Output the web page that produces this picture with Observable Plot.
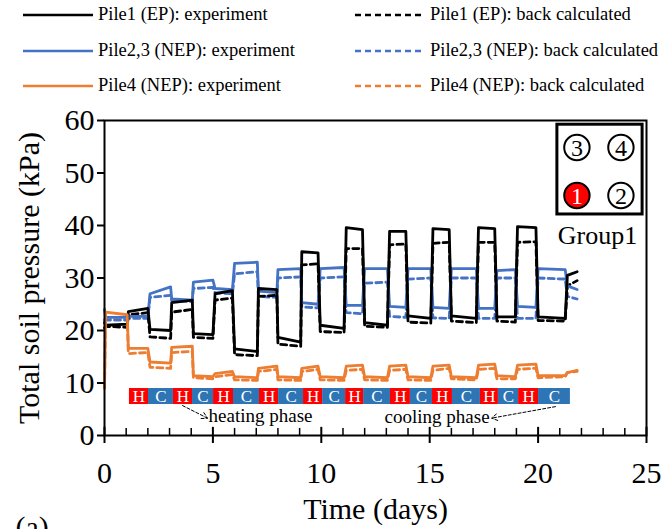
<!DOCTYPE html>
<html><head><meta charset="utf-8">
<script src="https://cdn.jsdelivr.net/npm/d3@7"></script>
<script src="https://cdn.jsdelivr.net/npm/@observablehq/plot@0.6"></script>
<style>
body{margin:0;background:#fff;font-family:"Liberation Serif","Times New Roman",serif;}
#wrap{position:relative;width:663px;height:529px;overflow:hidden;background:#fff;}
#legend{position:relative;width:663px;height:100px;}
.sw{position:absolute;}
.lab{position:absolute;font-size:18.5px;line-height:20px;white-space:nowrap;color:#000;}
</style>
</head><body>
<div id="wrap"><div id="legend"></div><div id="chart"></div></div>
<script>
// ---- data ----
const days = [0, 0.05, 1.05, 1.1, 2.0, 2.1, 3.05, 3.1, 4.05, 4.1, 5.0, 5.1, 5.9, 6.0, 7.05, 7.1, 7.95, 8.0, 9.05, 9.1, 9.85, 9.95, 11.05, 11.15, 11.9, 12.0, 13.05, 13.15, 13.9, 14.0, 15.05, 15.15, 15.9, 16.0, 17.15, 17.25, 18.0, 18.1, 18.95, 19.05, 19.9, 20.0, 21.25, 21.35, 21.8];
const pile1Exp  = [21.5, 21.0, 21.2, 23.6, 24.2, 20.2, 20.0, 25.3, 25.8, 19.4, 19.2, 27.0, 27.6, 16.5, 16.0, 28.0, 27.8, 18.7, 17.8, 35.0, 34.8, 21.0, 20.4, 39.6, 39.2, 21.5, 21.0, 38.9, 38.9, 22.8, 22.3, 39.4, 39.2, 22.8, 22.3, 39.6, 39.4, 22.6, 22.6, 39.8, 39.6, 22.6, 22.3, 30.5, 31.2];
const pile1Calc = [20.5, 20.8, 20.6, 23.0, 23.4, 18.8, 18.5, 23.5, 24.0, 18.7, 18.5, 25.8, 26.2, 15.4, 15.2, 26.5, 26.7, 17.4, 17.0, 32.5, 32.7, 19.8, 19.6, 35.6, 35.6, 20.8, 20.6, 36.3, 36.5, 21.6, 21.4, 36.6, 36.8, 21.8, 21.5, 36.8, 36.8, 21.8, 21.6, 36.8, 36.9, 21.9, 21.8, 28.5, 29.5];
const pile23Exp  = [24.0, 22.5, 22.5, 22.7, 22.7, 27.0, 28.3, 26.0, 25.8, 29.2, 29.6, 28.0, 27.8, 32.8, 33.0, 27.5, 27.2, 31.6, 31.8, 25.3, 25.0, 31.8, 32.0, 24.8, 24.8, 31.8, 31.8, 24.6, 24.4, 31.8, 31.8, 24.4, 24.2, 31.8, 31.8, 24.2, 24.2, 31.4, 31.6, 24.6, 24.4, 31.8, 31.6, 28.5, 27.8];
const pile23Calc = [22.0, 22.0, 22.0, 22.3, 22.3, 26.3, 26.7, 25.7, 25.5, 28.0, 28.2, 27.2, 27.0, 30.8, 31.2, 26.5, 26.3, 30.0, 30.2, 24.5, 24.3, 30.0, 30.2, 23.4, 23.2, 29.0, 29.2, 22.7, 22.5, 29.8, 30.0, 22.4, 22.3, 30.0, 30.0, 22.3, 22.3, 30.0, 30.0, 22.3, 22.3, 30.0, 29.8, 26.5, 26.0];
const pile4Exp  = [9.0, 23.5, 23.0, 16.6, 16.6, 14.0, 13.8, 16.8, 17.0, 11.4, 11.2, 11.8, 12.2, 11.2, 11.0, 12.8, 13.2, 11.2, 11.0, 12.8, 13.2, 11.2, 11.0, 13.2, 13.4, 11.2, 11.0, 13.2, 13.4, 11.2, 11.0, 13.2, 13.4, 11.2, 11.0, 13.4, 13.6, 11.4, 11.2, 13.4, 13.6, 11.4, 11.4, 12.0, 12.4];
const pile4Calc = [9.0, 22.5, 22.5, 15.6, 15.8, 13.0, 12.8, 15.8, 16.0, 11.0, 10.8, 11.2, 11.6, 10.6, 10.5, 12.2, 12.6, 10.6, 10.5, 12.2, 12.6, 10.6, 10.5, 12.4, 12.6, 10.6, 10.5, 12.4, 12.6, 10.6, 10.5, 12.4, 12.8, 10.8, 10.6, 12.6, 12.8, 10.8, 10.8, 12.6, 12.8, 11.0, 11.2, 12.0, 12.2];

const seriesNames = ["Pile1 (EP): experiment", "Pile1 (EP): back calculated",
  "Pile2,3 (NEP): experiment", "Pile2,3 (NEP): back calculated",
  "Pile4 (NEP): experiment", "Pile4 (NEP): back calculated"];
const xTicks = [0, 5, 10, 15, 20, 25];
const xMinor = [1,2,3,4,6,7,8,9,11,12,13,14,16,17,18,19,21,22,23,24];
const yTicks = [0, 10, 20, 30, 40, 50, 60];

// heating/cooling phase strip (day boundaries) and labels
const phaseEdges = [1.15, 2.03, 3.18, 4.06, 5.03, 5.95, 7.15, 8.03, 9.18, 10.06, 11.12, 11.95, 13.19, 14.11, 15.13, 16.05, 17.34, 18.17, 19.10, 20.02, 21.49];
const phaseLabels = ["H","C","H","C","H","C","H","C","H","C","H","C","H","C","H","C","H","C","H","C"];
const stripY = [5.9, 8.95];

// annotations (data units)
const phaseTexts = [{x: 4.8, y: 2.5, text: "heating phase"}, {x: 12.92, y: 2.3, text: "cooling phase"}];
const phaseArrows = [{x1: 3.6, y1: 5.7, x2: 4.75, y2: 3.3}, {x1: 20.8, y1: 5.5, x2: 17.85, y2: 3.3}];
const groupBox = [{x1: 20.89, x2: 24.82, y1: 42.1, y2: 59.2}];
const groupPiles = [{x: 21.79, y: 54.86, n: "3"}, {x: 23.82, y: 54.86, n: "4"}, {x: 21.79, y: 45.71, n: "1"}, {x: 23.82, y: 45.71, n: "2"}];
const groupLabel = [{x: 22.74, y: 36.4, text: "Group1"}];

// ---- styles ----
const BLACK = "#000000", BLUE = "#4472C4", ORANGE = "#ED7D31";
const RED = "#FF0000", CBLUE = "#2E75B6";
const seriesColors = [BLACK, BLACK, BLUE, BLUE, ORANGE, ORANGE];
const DASH = "6,4";

// ---- legend ----
const legend = document.getElementById("legend");
const rowsY = [15, 51, 86];
seriesNames.forEach((name, i) => {
  const row = Math.floor(i / 2), col = i % 2;
  const lx = col === 0 ? 23 : 355, tx = col === 0 ? 98 : 430;
  const dashed = col === 1;
  const sw = document.createElementNS("http://www.w3.org/2000/svg", "svg");
  sw.setAttribute("class", "sw");
  sw.setAttribute("width", 70); sw.setAttribute("height", 8);
  sw.style.left = lx + "px"; sw.style.top = (rowsY[row] - 4) + "px";
  const ln = document.createElementNS("http://www.w3.org/2000/svg", "line");
  ln.setAttribute("x1", 0); ln.setAttribute("x2", 70); ln.setAttribute("y1", 4); ln.setAttribute("y2", 4);
  ln.setAttribute("stroke", seriesColors[i]); ln.setAttribute("stroke-width", 2.5);
  if (dashed) ln.setAttribute("stroke-dasharray", DASH);
  sw.appendChild(ln);
  legend.appendChild(sw);
  const lab = document.createElement("div");
  lab.className = "lab"; lab.textContent = name;
  lab.style.left = tx + "px"; lab.style.top = (rowsY[row] - 11) + "px";
  legend.appendChild(lab);
});

// ---- chart ----
const toRows = vals => days.map((t, i) => ({t, v: vals[i]}));
const strip = phaseLabels.map((label, i) => ({x1: phaseEdges[i], x2: phaseEdges[i + 1], label}));
const seriesVals = [pile1Exp, pile1Calc, pile23Exp, pile23Calc, pile4Exp, pile4Calc];
const drawOrder = [3, 1, 5, 2, 0, 4];
const lineMarks = drawOrder.map(i => Plot.line(toRows(seriesVals[i]), {
  x: "t", y: "v", stroke: seriesColors[i], strokeWidth: 2.8,
  strokeDasharray: i % 2 === 1 ? DASH : null, strokeLinejoin: "round"
}));

const chart = Plot.plot({
  width: 663, height: 429,
  marginTop: 20, marginBottom: 94, marginLeft: 104, marginRight: 17,
  style: {fontFamily: "'Liberation Serif', 'Times New Roman', serif", background: "#fff", color: "#000", overflow: "visible"},
  x: {domain: [0, 25], axis: null},
  y: {domain: [0, 60], axis: null},
  color: {type: "identity"},
  marks: [
    ...lineMarks,
    Plot.rect(strip, {x1: "x1", x2: "x2", y1: stripY[0], y2: stripY[1], fill: d => d.label === "H" ? RED : CBLUE}),
    Plot.text(strip, {x: d => (d.x1 + d.x2) / 2, y: (stripY[0] + stripY[1]) / 2, text: "label", fill: "white", fontSize: 17}),
    Plot.arrow(phaseArrows, {x1: "x1", y1: "y1", x2: "x2", y2: "y2", stroke: BLACK, strokeWidth: 1, strokeDasharray: "3,2", headLength: 10, bend: 0}),
    Plot.text(phaseTexts, {x: "x", y: "y", text: "text", textAnchor: "start", lineAnchor: "bottom", fontSize: 19, fill: BLACK}),
    Plot.rect(groupBox, {x1: "x1", x2: "x2", y1: "y1", y2: "y2", fill: "white", stroke: BLACK, strokeWidth: 3}),
    Plot.dot(groupPiles, {x: "x", y: "y", r: 12.7, fill: d => d.n === "1" ? RED : "white", stroke: BLACK, strokeWidth: 2}),
    Plot.text(groupPiles, {x: "x", y: "y", text: "n", fill: d => d.n === "1" ? "white" : BLACK, fontSize: 24, dy: 1}),
    Plot.text(groupLabel, {x: "x", y: "y", text: "text", lineAnchor: "bottom", fontSize: 26, fill: BLACK}),
    Plot.ruleX(xMinor, {y1: 0, y2: 1.35, stroke: BLACK, strokeWidth: 1.5}),
    Plot.ruleX(xTicks, {y1: 0, y2: 1.55, stroke: BLACK, strokeWidth: 2}),
    Plot.axisX({ticks: xTicks, tickSize: 8, tickPadding: 18, fontSize: 30, strokeWidth: 2, label: null, tickFormat: d => String(d)}),
    Plot.axisY({ticks: yTicks, tickSize: 7, tickPadding: 3, fontSize: 30, strokeWidth: 2, label: null, tickFormat: d => String(d)}),
    Plot.frame({stroke: BLACK, strokeWidth: 2}),
    Plot.text(["Total soil pressure (kPa)"], {frameAnchor: "left", dx: -75, rotate: -90, textAnchor: "middle", lineAnchor: "middle", text: d => d, fontSize: 30, fill: BLACK}),
    Plot.text(["Time (days)"], {frameAnchor: "bottom", dy: 74, textAnchor: "middle", lineAnchor: "middle", text: d => d, fontSize: 30, fill: BLACK}),
    Plot.text(["(a)"], {frameAnchor: "bottom-left", dx: -89, dy: 80, textAnchor: "start", lineAnchor: "top", text: d => d, fontSize: 30, fill: BLACK})
  ]
});
document.getElementById("chart").appendChild(chart);
</script>
</body></html>
